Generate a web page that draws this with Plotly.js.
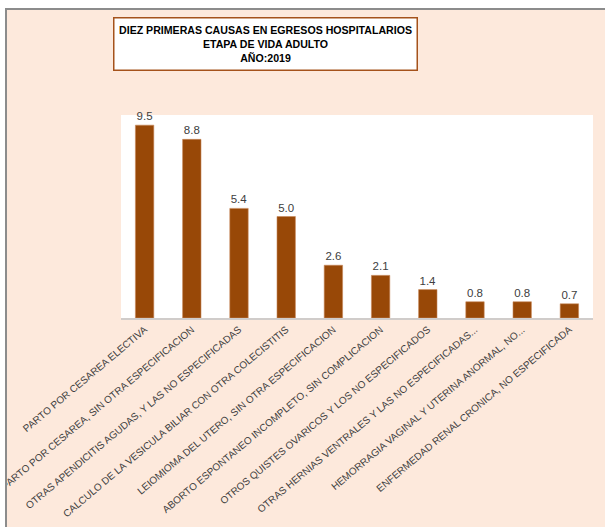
<!DOCTYPE html>
<html>
<head>
<meta charset="utf-8">
<script src="https://cdn.plot.ly/plotly-3.0.1.min.js"></script>
<style>
  html, body { margin: 0; padding: 0; background: #ffffff; width: 605px; height: 527px; overflow: hidden; }
  #frame { position: absolute; left: 5px; top: 8px; width: 600px; height: 519px; border-left: 2px solid #8c8c8c; border-top: 2px solid #8c8c8c; background: #FDE9DC; overflow: hidden; }
  #chart { position: absolute; left: 0; top: 0; width: 598px; height: 517px; }
</style>
</head>
<body>
<div id="frame"><div id="chart"></div></div>
<script>
const causas = [
  "PARTO POR CESAREA ELECTIVA",
  "PARTO POR CESAREA, SIN OTRA ESPECIFICACION",
  "OTRAS APENDICITIS AGUDAS, Y LAS NO ESPECIFICADAS",
  "CALCULO DE LA VESICULA BILIAR CON OTRA COLECISTITIS",
  "LEIOMIOMA DEL UTERO, SIN OTRA ESPECIFICACION",
  "ABORTO ESPONTANEO INCOMPLETO, SIN COMPLICACION",
  "OTROS QUISTES OVARICOS Y LOS NO ESPECIFICADOS",
  "OTRAS HERNIAS VENTRALES Y LAS NO ESPECIFICADAS...",
  "HEMORRAGIA VAGINAL Y UTERINA ANORMAL, NO...",
  "ENFERMEDAD RENAL CRONICA, NO ESPECIFICADA"
];
const porcentajes = [9.5, 8.8, 5.4, 5.0, 2.6, 2.1, 1.4, 0.8, 0.8, 0.7];
const tituloLineas = ["DIEZ PRIMERAS CAUSAS EN EGRESOS HOSPITALARIOS", "ETAPA DE VIDA ADULTO", "AÑO:2019"];

const trace = {
  type: "bar",
  x: causas,
  y: porcentajes,
  marker: { color: "#984807", line: { color: "#c7885a", width: 0.6 } },
  text: porcentajes.map(v => v.toFixed(1)),
  textposition: "outside",
  textfont: { family: "Liberation Sans, Arial, sans-serif", size: 11.5, color: "#404040" },
  cliponaxis: false,
  hoverinfo: "none"
};

const layout = {
  width: 598, height: 517,
  margin: { l: 114, r: 12, t: 105, b: 209 },
  paper_bgcolor: "#FDE9DC",
  plot_bgcolor: "#ffffff",
  showlegend: false,
  bargap: 0.61,
  xaxis: {
    type: "category",
    tickangle: -40,
    tickfont: { family: "Liberation Sans, Arial, sans-serif", size: 10, color: "#404040" },
    showline: true, linecolor: "#D0CCCA", linewidth: 2,
    ticks: "", showgrid: false, automargin: false
  },
  yaxis: { range: [0, 10], visible: false, showgrid: false, zeroline: false },
  annotations: [{
    xref: "paper", yref: "paper",
    x: 0.307, y: 1.352,
    xanchor: "center", yanchor: "middle",
    text: tituloLineas.map(t => "<b>" + t + "</b>").join("<br>"),
    showarrow: false,
    font: { family: "Liberation Sans, Arial, sans-serif", size: 10.6, color: "#000000" },
    bgcolor: "#ffffff",
    bordercolor: "#A5521B",
    borderwidth: 1.5,
    borderpad: 1,
    width: 300, height: 49,
    align: "center"
  }]
};

Plotly.newPlot("chart", [trace], layout, { staticPlot: true, displayModeBar: false });
</script>
</body>
</html>
